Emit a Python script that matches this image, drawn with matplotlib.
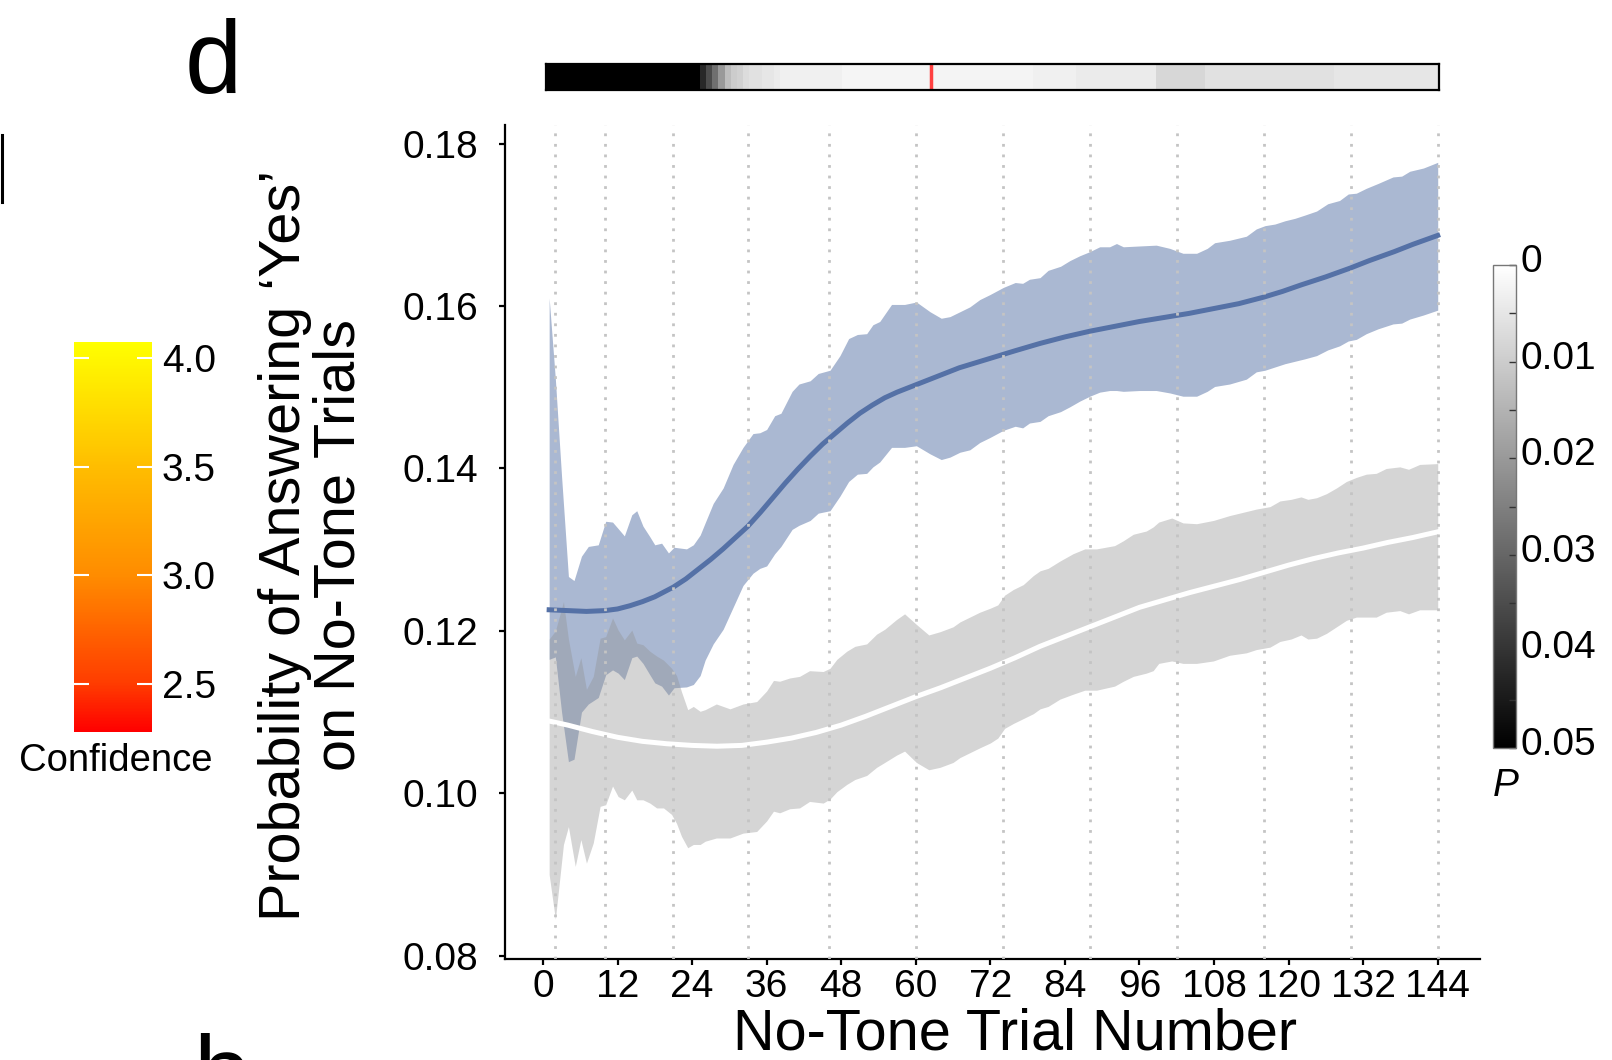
import numpy as np
import matplotlib
matplotlib.use('Agg')
from matplotlib import pyplot as plt
from matplotlib.colors import Normalize, LinearSegmentedColormap
from matplotlib.cm import ScalarMappable
from matplotlib.lines import Line2D
import matplotlib.transforms as mtransforms

plt.rcParams['font.family'] = ['Liberation Sans', 'DejaVu Sans']

# fitted curves (trial, probability)
blue_t = [1, 4, 7, 10, 12, 14, 16, 18, 21, 23, 25, 27, 29, 31, 33, 35, 37, 39, 41, 43, 45, 47,
          49, 51, 53, 55, 57, 59, 61, 64, 67, 70, 73, 76, 80, 84, 88, 92, 96, 100, 104, 108,
          112, 116, 119, 122, 126, 130, 133, 137, 140, 144]
blue_mean = [0.1226, 0.1225, 0.1224, 0.1225, 0.1227, 0.1231, 0.1236, 0.1242, 0.1254, 0.1264,
             0.1276, 0.1288, 0.1301, 0.1315, 0.1329, 0.1346, 0.1364, 0.1382, 0.1399, 0.1415,
             0.1430, 0.1443, 0.1456, 0.1468, 0.1478, 0.1487, 0.1494, 0.1500, 0.1506, 0.1515,
             0.1524, 0.1531, 0.1538, 0.1545, 0.1554, 0.1562, 0.1569, 0.1575, 0.1581, 0.1586,
             0.1591, 0.1597, 0.1603, 0.1611, 0.1618, 0.1626, 0.1636, 0.1647, 0.1656, 0.1667,
             0.1676, 0.1687]
white_t = [1, 4, 8, 12, 16, 20, 24, 28, 32, 36, 40, 44, 48, 52, 56, 60, 64, 68, 72, 76, 80, 84,
           88, 92, 96, 100, 104, 108, 112, 116, 120, 124, 128, 132, 136, 140, 144]
white_mean = [0.1089, 0.1084, 0.1076, 0.1069, 0.1064, 0.1061, 0.1059, 0.1058, 0.1059, 0.1063,
              0.1068, 0.1075, 0.1084, 0.1095, 0.1107, 0.1119, 0.1130, 0.1142, 0.1154, 0.1167,
              0.1181, 0.1193, 0.1205, 0.1217, 0.1229, 0.1238, 0.1247, 0.1255, 0.1263, 0.1272,
              0.1281, 0.1289, 0.1296, 0.1302, 0.1309, 0.1315, 0.1322]

# confidence bands
blue_band_t = [1.0, 2.0, 3.0, 4.1, 5.0, 6.2, 7.3, 8.9, 10.1, 11.2, 12.1, 13.1, 14.3, 15.1, 16.1,
               17.2, 18.0, 19.1, 20.2, 21.1, 23.1, 24.2, 25.3, 26.1, 27.4, 29.0, 30.6, 32.2, 33.8,
               34.9, 36.0, 37.3, 38.3, 40.1, 41.2, 43.0, 44.3, 46.2, 47.8, 49.2, 50.6, 52.1, 53.1,
               54.2, 56.1, 58.2, 60.1, 62.3, 64.1, 65.5, 67.1, 68.7, 70.3, 71.9, 74.1, 76.0, 77.2,
               78.3, 80.0, 81.3, 83.3, 84.8, 86.4, 88.0, 89.6, 91.2, 92.3, 93.4, 96.0, 98.7, 100.9,
               103.0, 105.2, 106.9, 108.1, 110.5, 113.2, 114.8, 116.2, 117.8, 119.4, 121.0, 122.6,
               124.5, 126.3, 128.2, 129.6, 130.9, 132.5, 134.4, 136.8, 138.2, 139.5, 141.7, 144.0]
blue_upper = [0.161, 0.151, 0.139, 0.1267, 0.1262, 0.1292, 0.1304, 0.1306, 0.1335, 0.1334, 0.1326,
              0.1317, 0.1343, 0.1348, 0.1329, 0.1316, 0.1306, 0.1308, 0.1296, 0.1303, 0.1301,
              0.1306, 0.1318, 0.1333, 0.1357, 0.1376, 0.1405, 0.1426, 0.1443, 0.1444, 0.1448,
              0.1465, 0.1468, 0.1495, 0.1504, 0.1508, 0.1517, 0.1521, 0.1539, 0.1560, 0.1565,
              0.1566, 0.1577, 0.1581, 0.1602, 0.1602, 0.1605, 0.1593, 0.1585, 0.1587, 0.1593,
              0.1599, 0.1608, 0.1614, 0.1623, 0.1629, 0.1628, 0.1633, 0.1635, 0.1644, 0.1649,
              0.1656, 0.1662, 0.1667, 0.1673, 0.1673, 0.1677, 0.1673, 0.1674, 0.1675, 0.1671,
              0.1665, 0.1665, 0.1671, 0.1678, 0.1681, 0.1686, 0.1695, 0.1699, 0.1701, 0.1705,
              0.1708, 0.1712, 0.1717, 0.1726, 0.1730, 0.1738, 0.1739, 0.1745, 0.1751, 0.1759,
              0.1760, 0.1766, 0.1770, 0.1777]
blue_lower = [0.1165, 0.1168, 0.1100, 0.1039, 0.1042, 0.1100, 0.1110, 0.1118, 0.1146, 0.1152,
              0.1148, 0.1140, 0.1167, 0.1169, 0.1160, 0.1146, 0.1136, 0.1132, 0.1121, 0.1130,
              0.1131, 0.1134, 0.1145, 0.1164, 0.1184, 0.1202, 0.1229, 0.1256, 0.1271, 0.1277,
              0.1280, 0.1295, 0.1304, 0.1325, 0.1330, 0.1336, 0.1345, 0.1348, 0.1366, 0.1384,
              0.1393, 0.1394, 0.1402, 0.1408, 0.1426, 0.1426, 0.1428, 0.1418, 0.1411, 0.1414,
              0.1420, 0.1423, 0.1432, 0.1438, 0.1447, 0.1452, 0.1450, 0.1456, 0.1458, 0.1465,
              0.1470, 0.1476, 0.1483, 0.1489, 0.1494, 0.1496, 0.1496, 0.1495, 0.1496, 0.1496,
              0.1493, 0.1489, 0.1489, 0.1495, 0.1501, 0.1504, 0.1510, 0.1519, 0.1521, 0.1525,
              0.1529, 0.1532, 0.1535, 0.1539, 0.1546, 0.1551, 0.1557, 0.1559, 0.1566, 0.1572,
              0.1578, 0.1579, 0.1584, 0.1589, 0.1595]

gray_band_t = [1.0, 2.0, 3.3, 4.1, 5.2, 6.1, 7.0, 8.1, 9.2, 10.1, 11.2, 12.1, 13.1, 14.3, 15.1,
               16.1, 17.2, 18.3, 19.4, 20.7, 21.5, 22.3, 23.3, 24.2, 25.3, 26.1, 27.9, 30.1, 32.2,
               34.4, 36.0, 37.1, 38.1, 39.7, 41.3, 42.9, 45.1, 46.2, 47.3, 48.9, 50.2, 52.1, 53.7,
               55.0, 56.9, 58.2, 60.1, 62.1, 63.9, 66.0, 67.1, 68.7, 70.3, 72.0, 73.2, 74.3, 75.7,
               77.3, 78.9, 80.0, 81.3, 83.2, 85.3, 87.2, 89.1, 92.0, 93.4, 95.0, 97.1, 98.2, 99.1,
               101.2, 103.0, 105.2, 107.9, 110.5, 113.2, 114.8, 117.0, 118.6, 120.4, 122.0, 123.1,
               124.5, 126.1, 127.7, 129.3, 130.9, 132.5, 134.1, 135.7, 137.9, 139.3, 141.1, 144.0]
gray_upper = [0.1190, 0.1200, 0.1236, 0.1190, 0.1144, 0.1167, 0.1128, 0.1144, 0.1191, 0.1193,
              0.1216, 0.1201, 0.1189, 0.1201, 0.1185, 0.1183, 0.1175, 0.1169, 0.1164, 0.1154,
              0.1145, 0.1125, 0.1103, 0.1107, 0.1101, 0.1103, 0.1110, 0.1104, 0.1110, 0.1113,
              0.1126, 0.1139, 0.1138, 0.1142, 0.1144, 0.1151, 0.1150, 0.1154, 0.1165, 0.1175,
              0.1181, 0.1184, 0.1196, 0.1202, 0.1214, 0.1221, 0.1208, 0.1195, 0.1199, 0.1205,
              0.1211, 0.1217, 0.1223, 0.1228, 0.1232, 0.1244, 0.1251, 0.1257, 0.1268, 0.1274,
              0.1277, 0.1286, 0.1295, 0.1301, 0.1301, 0.1305, 0.1311, 0.1319, 0.1323, 0.1328,
              0.1334, 0.1339, 0.1333, 0.1332, 0.1336, 0.1342, 0.1347, 0.1350, 0.1353, 0.1360,
              0.1362, 0.1365, 0.1362, 0.1364, 0.1369, 0.1376, 0.1384, 0.1389, 0.1393, 0.1394,
              0.1400, 0.1402, 0.1399, 0.1405, 0.1406]
gray_lower = [0.0900, 0.0845, 0.0937, 0.0959, 0.0910, 0.0943, 0.0914, 0.0939, 0.0984, 0.0986,
              0.1009, 0.0996, 0.0992, 0.1004, 0.0992, 0.0992, 0.0988, 0.0982, 0.0982, 0.0974,
              0.0963, 0.0947, 0.0933, 0.0937, 0.0937, 0.0941, 0.0945, 0.0945, 0.0951, 0.0953,
              0.0966, 0.0978, 0.0976, 0.0981, 0.0982, 0.0990, 0.0988, 0.0993, 0.1002, 0.1011,
              0.1017, 0.1022, 0.1032, 0.1038, 0.1047, 0.1052, 0.1038, 0.1029, 0.1032, 0.1038,
              0.1044, 0.1050, 0.1056, 0.1062, 0.1068, 0.1080, 0.1086, 0.1092, 0.1098, 0.1104,
              0.1107, 0.1116, 0.1122, 0.1127, 0.1127, 0.1132, 0.1138, 0.1144, 0.1148, 0.1151,
              0.1160, 0.1163, 0.1160, 0.1160, 0.1163, 0.1170, 0.1173, 0.1177, 0.1180, 0.1187,
              0.1190, 0.1195, 0.1190, 0.1191, 0.1197, 0.1205, 0.1213, 0.1217, 0.1217, 0.1217,
              0.1223, 0.1225, 0.1221, 0.1226, 0.1226]

grid_x = [2, 10, 21, 33, 46, 60, 74, 88, 102, 116, 130, 144]
x_ticks = list(range(0, 145, 12))
y_ticks = [0.08, 0.10, 0.12, 0.14, 0.16, 0.18]

# P value for each trial 0..144 (top strip)
p_values = ([0.05] * 25 +
            [0.042, 0.035, 0.028, 0.020, 0.013, 0.010, 0.009, 0.007, 0.006, 0.006, 0.005, 0.005, 0.004] +
            [0.003] * 10 + [0.002] * 14 + [0.0022] * 17 + [0.003] * 7 + [0.004] * 13 +
            [0.008] * 8 + [0.006] * 21 + [0.005] * 17)
red_mark = 62

p_ticks = [0, 0.01, 0.02, 0.03, 0.04, 0.05]
p_labels = ['0', '0.01', '0.02', '0.03', '0.04', '0.05']
conf_ticks = [2.5, 3.0, 3.5, 4.0]
conf_lo, conf_hi = 2.279, 4.074
conf_stops = [2.279, 2.5, 3.0, 3.5, 4.074]
conf_colors = ['#ff0000', '#ff3c00', '#ff8c00', '#ffbd00', '#ffff00']

fig = plt.figure(figsize=(16.12, 10.60), dpi=100)

# main panel
ax = fig.add_axes([0.3133, 0.0953, 0.6048, 0.7868])
ax.fill_between(blue_band_t, blue_lower, blue_upper, color='#aab8d2', lw=0, zorder=1)
ax.fill_between(gray_band_t, gray_lower, gray_upper, color='#919191', alpha=0.38, lw=0, zorder=2)
ax.plot(blue_t, blue_mean, color='#5571a6', lw=3.6, zorder=3)
ax.plot(white_t, white_mean, color='white', lw=3.6, zorder=3)
for gx in grid_x:
    ax.axvline(gx, color='#c4c4c4', lw=2.0, ls=(0, (1, 2.8)), zorder=4)

ax.set_xlim(-6.1, 150.8)
ax.set_ylim(0.0796, 0.1823)
ax.set_xticks(x_ticks)
ax.set_yticks(y_ticks)
ax.set_yticklabels(['%.2f' % v for v in y_ticks])
for s in ['top', 'right']:
    ax.spines[s].set_visible(False)
for s in ['left', 'bottom']:
    ax.spines[s].set_linewidth(1.6)
ax.tick_params(axis='both', direction='out', length=4.5, width=1.6, labelsize=28)
ax.tick_params(axis='y', pad=15)
ax.tick_params(axis='x', pad=3)
ax.set_xlabel('No-Tone Trial Number', fontsize=41.5)
ax.xaxis.set_label_coords(0.523, -0.058)

fig.text(312 / 1612, 1 - 545 / 1060, 'Probability of Answering \u2018Yes\u2019\non No-Tone Trials',
         rotation=90, ha='center', va='center', multialignment='center',
         fontsize=41.5, linespacing=1.02)

# P strip on top
bar = fig.add_axes([546 / 1612, 1 - 90 / 1060, 893 / 1612, 26 / 1060])
bar.imshow(np.array(p_values)[None, :], cmap='gray_r', vmin=0, vmax=0.05, aspect='auto',
           extent=[-0.5, 144.5, 0, 1], interpolation='nearest')
bar.axvline(red_mark, color='#ff4040', lw=2.5)
bar.set_xticks([])
bar.set_yticks([])
for s in bar.spines.values():
    s.set_linewidth(1.6)

# P colour bar
cax = fig.add_axes([1493 / 1612, 1 - 748 / 1060, 23 / 1612, 483 / 1060])
cb = fig.colorbar(ScalarMappable(Normalize(0, 0.05), 'gray_r'), cax=cax)
cax.invert_yaxis()
cb.set_ticks(p_ticks)
cb.set_ticklabels(p_labels)
cax.set_yticks([0.005, 0.015, 0.025, 0.035, 0.045], minor=True)
cax.tick_params(which='both', direction='in', length=5, width=1, color='#333333',
                labelsize=28, pad=3)
cb.outline.set_edgecolor('#777777')
cb.outline.set_linewidth(1)
lift = mtransforms.ScaledTranslation(0, 5 / 72, fig.dpi_scale_trans)
for lab in cax.get_yticklabels():
    lab.set_transform(lab.get_transform() + lift)
fig.text(1493 / 1612, 1 - 796 / 1060, 'P', style='italic', fontsize=28, va='baseline')

# confidence colour bar (neighbouring panel)
conf_cmap = LinearSegmentedColormap.from_list(
    'conf', [((v - conf_lo) / (conf_hi - conf_lo), c) for v, c in zip(conf_stops, conf_colors)])
cax2 = fig.add_axes([74 / 1612, 1 - 732 / 1060, 78 / 1612, 390 / 1060])
cb2 = fig.colorbar(ScalarMappable(Normalize(conf_lo, conf_hi), conf_cmap), cax=cax2)
cb2.set_ticks(conf_ticks)
cb2.set_ticklabels(['%.1f' % c for c in conf_ticks])
cb2.outline.set_visible(False)
cax2.tick_params(direction='in', length=11, width=1.5, color='white', left=True, right=True,
                 labelsize=28, pad=7)
fig.text(116 / 1612, 1 - 761 / 1060, 'Confidence', ha='center', va='center', fontsize=27.5)

# panel letters and cut-off pieces
fig.text(185 / 1612, 1 - 93 / 1060, 'd', fontsize=74, va='baseline')
fig.text(193 / 1612, 1 - 1107 / 1060, 'b', fontsize=74, va='baseline')
fig.add_artist(Line2D([1.5 / 1612, 1.5 / 1612], [1 - 135 / 1060, 1 - 202 / 1060],
                      color='black', lw=2.2))

fig.savefig('out.png', dpi=100)
